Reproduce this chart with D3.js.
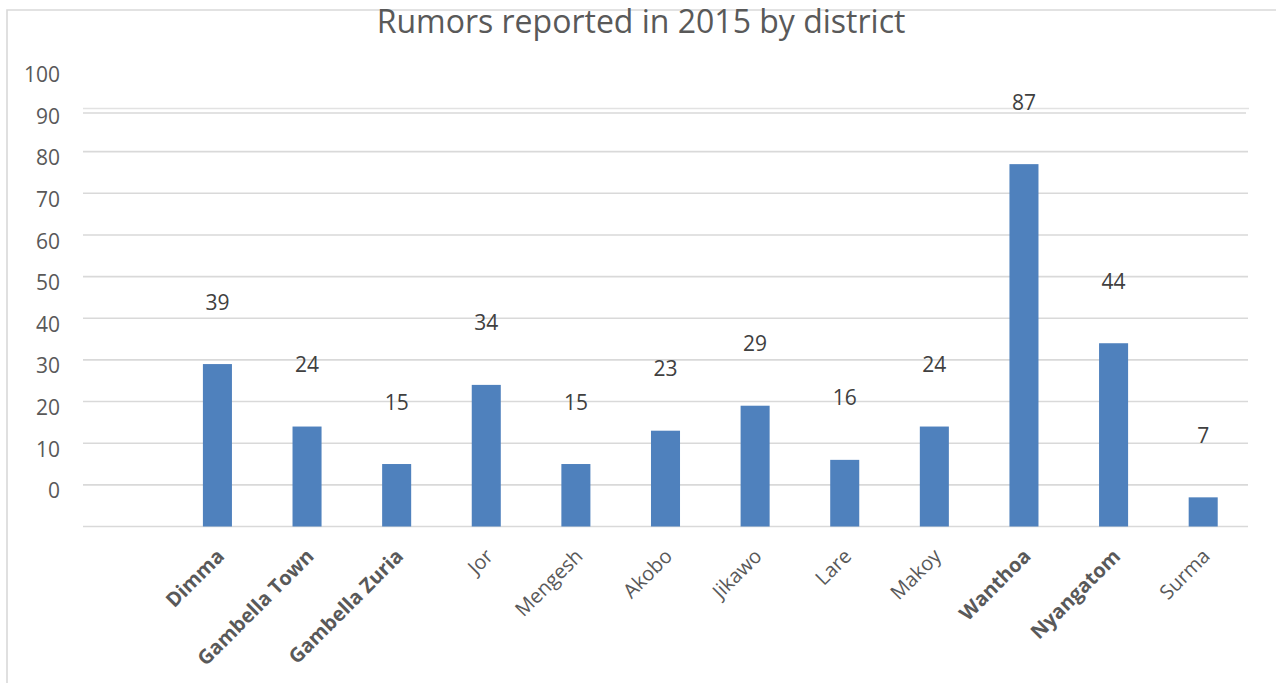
<!DOCTYPE html>
<html>
<head>
<meta charset="utf-8">
<script src="https://cdn.jsdelivr.net/npm/d3@7"></script>
<style>
  html, body { margin: 0; padding: 0; background: #fff; }
  svg { display: block; font-family: "Open Sans", "Noto Sans", sans-serif; }
</style>
</head>
<body>
<svg id="chart" width="1276" height="683"></svg>
<script>
// District rumor counts for 2015 (first slot is an unlabeled, empty category)
const categories = ["", "Dimma", "Gambella Town", "Gambella Zuria", "Jor", "Mengesh", "Akobo",
                    "Jikawo", "Lare", "Makoy", "Wanthoa", "Nyangatom", "Surma"];
const rumors = [null, 39, 24, 15, 34, 15, 23, 29, 16, 24, 87, 44, 7];
const boldCategories = ["Dimma", "Gambella Town", "Gambella Zuria", "Wanthoa", "Nyangatom"];
const yTicks = [0, 10, 20, 30, 40, 50, 60, 70, 80, 90, 100];
const titleText = "Rumors reported in 2015 by district";

const svg = d3.select("#chart");
const W = 1276, H = 683;
const plot = { left: 83, right: 1248, top: 110, bottom: 526.5 };
const grid = "#d9d9d9";

// outer chart frame (runs off the right and bottom edges)
svg.append("path")
  .attr("d", `M7,${H + 5} V10 H${W + 5}`)
  .attr("fill", "none").attr("stroke", grid).attr("stroke-width", 1.6);

const x = d3.scaleBand().domain(categories).range([plot.left, plot.right]).paddingInner(0.676).paddingOuter(0.338);
const y = d3.scaleLinear().domain([0, 100]).range([plot.bottom, plot.top]);

// horizontal gridlines
svg.append("g").selectAll("line").data(yTicks.filter(v => v < 100)).join("line")
  .attr("x1", plot.left).attr("x2", plot.right)
  .attr("y1", d => y(d)).attr("y2", d => y(d))
  .attr("stroke", grid).attr("stroke-width", 1.6);
// top rule is drawn doubled
svg.append("line").attr("x1", plot.left).attr("x2", plot.right + 1)
  .attr("y1", y(100) - 1.5).attr("y2", y(100) - 1.5)
  .attr("stroke", "#e2e2e2").attr("stroke-width", 1.6);
svg.append("line").attr("x1", plot.left).attr("x2", plot.right - 2)
  .attr("y1", y(100) + 3).attr("y2", y(100) + 3)
  .attr("stroke", grid).attr("stroke-width", 1.6);

// y-axis tick labels sit one step above their gridline
const labelShift = 10;
svg.append("g").selectAll("text").data(yTicks).join("text")
  .attr("x", 60).attr("y", d => y(d + labelShift) + 6)
  .attr("dy", "0.36em")
  .attr("text-anchor", "end")
  .attr("font-size", 21).attr("fill", "#595959")
  .text(d => d);

const data = categories.map((c, i) => ({ c, v: rumors[i] })).filter(d => d.v != null);

// bars
svg.append("g").selectAll("rect").data(data).join("rect")
  .attr("x", d => x(d.c)).attr("width", x.bandwidth())
  .attr("y", d => y(d.v)).attr("height", d => y(0) - y(d.v))
  .attr("fill", "#4f81bd");

// value labels floating above bars
svg.append("g").selectAll("text").data(data).join("text")
  .attr("x", d => x(d.c) + x.bandwidth() / 2)
  .attr("y", d => y(d.v) - 62)
  .attr("dy", "0.36em")
  .attr("text-anchor", "middle")
  .attr("font-size", 21).attr("fill", "#404040")
  .text(d => d.v);

// rotated category labels
svg.append("g").selectAll("text").data(data).join("text")
  .attr("transform", d => `translate(${x(d.c) + x.bandwidth() / 2 + 8},${plot.bottom + 31}) rotate(-45)`)
  .attr("text-anchor", "end")
  .attr("font-size", 20)
  .attr("font-weight", d => boldCategories.includes(d.c) ? 700 : 400)
  .attr("fill", "#595959")
  .text(d => d.c);

// title
svg.append("text")
  .attr("x", 641).attr("y", 33)
  .attr("text-anchor", "middle")
  .attr("font-size", 32).attr("fill", "#595959")
  .text(titleText);
</script>
</body>
</html>
